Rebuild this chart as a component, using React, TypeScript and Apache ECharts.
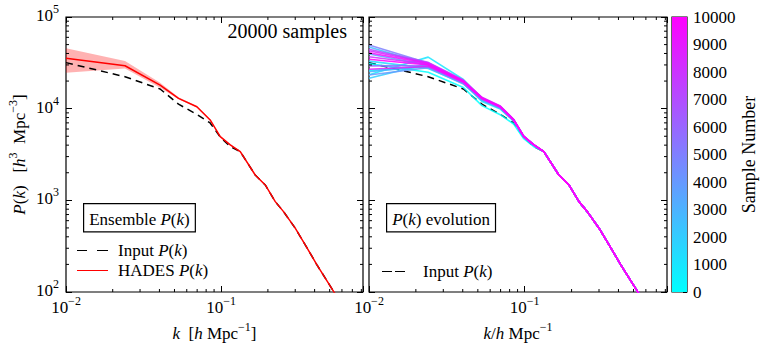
import React, { useEffect, useRef } from 'react';
import * as echarts from 'echarts';

// ---- data ----
const kNodes = [0.01, 0.024, 0.0404, 0.0531, 0.0697, 0.0849, 0.0986, 0.1144, 0.1327, 0.1657, 0.1923, 0.2231, 0.2522, 0.3, 0.348, 0.414, 0.531, 0.6];
const hadesP = [35500, 29400, 18100, 12970, 10500, 7530, 4955, 4020, 3400, 1890, 1473, 968, 753, 497, 327, 198, 101, 73];
const inputP = [31800, 22300, 16400, 11200, 8650, 6980, 4900, 3850, 3400, 1890, 1473, 968, 753, 497, 327, 198, 101, 73];
const bandUpper = [45500, 33100, 19200, 13300, 10700, 7650, 5030, 4080, 3450, 1915, 1490, 980, 762, 503, 331, 200, 102, 74];
const bandLower = [24700, 27500, 16900, 12700, 10300, 7410, 4880, 3960, 3350, 1865, 1456, 956, 744, 491, 323, 196, 100, 72];

// sample evolution: values at the first 8 k nodes, tail shared with HADES
const sampleIds = [0, 500, 1000, 1500, 2000, 2500, 3000, 3500, 4000, 5000, 6000, 7000, 8000, 8500, 9000, 9500, 10000];
const sampleHead = [
  [31000, 25000, 17000, 10800, 8600, 6800, 4700, 3850],
  [26000, 28500, 19000, 12000, 9900, 7300, 4900, 3950],
  [23500, 36500, 20800, 12900, 10100, 7450, 4950, 4000],
  [33000, 27500, 18800, 12400, 10100, 7500, 4900, 4000],
  [21500, 31000, 19500, 12300, 10200, 7450, 4950, 4020],
  [47000, 30500, 19800, 12700, 10300, 7500, 4950, 4000],
  [25300, 29000, 19000, 12600, 10200, 7500, 4950, 4020],
  [39500, 30000, 19300, 12900, 10400, 7550, 4970, 4020],
  [23300, 28000, 18600, 12400, 10100, 7450, 4930, 4000],
  [49500, 31500, 20000, 13000, 10500, 7600, 5000, 4030],
  [29300, 29500, 19200, 12800, 10300, 7500, 4960, 4020],
  [44400, 32000, 20500, 13200, 10600, 7600, 5000, 4040],
  [36900, 30500, 19600, 13000, 10500, 7550, 4980, 4020],
  [42900, 31500, 20200, 13300, 10700, 7650, 5020, 4050],
  [26900, 28800, 19400, 12900, 10400, 7500, 4960, 4020],
  [40800, 31000, 20000, 13100, 10500, 7550, 4980, 4030],
  [34600, 30000, 19800, 13000, 10500, 7530, 4960, 4020],
];

const xMin = 0.01, xMax = 0.82, yMin = 100, yMax = 100000;
const colorbarMax = 10000;
const colorbarStep = 1000;

const SERIF = 'Liberation Serif';
const FS = 17;

function coolColor(t: number) {
  return `rgb(${Math.round(255 * t)},${Math.round(255 * (1 - t))},255)`;
}

const minorMult = [2, 3, 4, 5, 6, 7, 8, 9];
const xMinor: number[] = [];
[0.01, 0.1].forEach((d) => minorMult.forEach((m) => { const v = d * m; if (v < xMax) xMinor.push(v); }));
const yMinor: number[] = [];
[100, 1000, 10000].forEach((d) => minorMult.forEach((m) => yMinor.push(d * m)));

const rich = {
  b: { fontFamily: SERIF, fontSize: FS, color: '#000', lineHeight: 21, verticalAlign: 'bottom' },
  i: { fontFamily: SERIF, fontSize: FS, fontStyle: 'italic', color: '#000', lineHeight: 21, verticalAlign: 'bottom' },
  s: { fontFamily: SERIF, fontSize: 12, color: '#000', lineHeight: 13, verticalAlign: 'top' },
};
const legendRich = {
  b: { fontFamily: SERIF, fontSize: FS, color: '#000', lineHeight: 17 },
  i: { fontFamily: SERIF, fontSize: FS, fontStyle: 'italic', color: '#000', lineHeight: 17 },
};

function powFmt(v: number) {
  const e = Math.log10(v);
  const r = Math.round(e);
  if (Math.abs(e - r) > 1e-6) return '';
  return '{b|10}{s|' + (r < 0 ? '\u2212' + -r : String(r)) + '}';
}

function xAxisCfg(gi: number, pos: 'top' | 'bottom', showLabel: boolean, name: string) {
  return {
    type: 'log', logBase: 10, gridIndex: gi, position: pos, min: xMin, max: xMax,
    axisLine: { show: false }, splitLine: { show: false },
    axisTick: { show: true, inside: true, length: 6, lineStyle: { color: '#000', width: 1 } },
    axisLabel: { show: showLabel, formatter: powFmt, margin: 3, rich },
    name, nameLocation: 'middle', nameGap: 27,
    nameTextStyle: { rich },
  };
}
function yAxisCfg(gi: number, pos: 'left' | 'right', showLabel: boolean, name: string) {
  return {
    type: 'log', logBase: 10, gridIndex: gi, position: pos, min: yMin, max: yMax,
    axisLine: { show: false }, splitLine: { show: false },
    axisTick: { show: true, inside: true, length: 6, lineStyle: { color: '#000', width: 1 } },
    axisLabel: { show: showLabel, formatter: powFmt, margin: 7, rich, padding: [0, 0, 7, 0] },
    name, nameLocation: 'middle', nameGap: 38, nameRotate: 90,
    nameTextStyle: { rich },
  };
}

function minorTickSeries(axisIdx: number) {
  const L = 3;
  const data = [
    ...xMinor.map((v) => [v, yMin, 0]),
    ...yMinor.map((v) => [xMin, v, 1]),
  ];
  return {
    type: 'custom', xAxisIndex: axisIdx, yAxisIndex: axisIdx, silent: true, z: 5,
    data,
    renderItem: (_p: any, api: any) => {
      const a = api.value(0), b = api.value(1), kind = api.value(2);
      const st = { stroke: '#000', lineWidth: 1 };
      if (kind === 0) {
        const p1 = api.coord([a, yMin]);
        const p2 = api.coord([a, yMax]);
        return { type: 'group', children: [
          { type: 'line', shape: { x1: p1[0], y1: p1[1], x2: p1[0], y2: p1[1] - L }, style: st },
          { type: 'line', shape: { x1: p2[0], y1: p2[1], x2: p2[0], y2: p2[1] + L }, style: st },
        ] };
      }
      const p1 = api.coord([xMin, b]);
      const p2 = api.coord([xMax, b]);
      return { type: 'group', children: [
        { type: 'line', shape: { x1: p1[0], y1: p1[1], x2: p1[0] + L, y2: p1[1] }, style: st },
        { type: 'line', shape: { x1: p2[0], y1: p2[1], x2: p2[0] - L, y2: p2[1] }, style: st },
      ] };
    },
  };
}

const legendText = '{b|Input }{i|P}{b|(}{i|k}{b|)}';
const legendNames: Record<string, string> = {
  'Input P(k)': legendText,
  'HADES P(k)': '{b|HADES }{i|P}{b|(}{i|k}{b|)}',
  'Input P(k) ': legendText,
};

export default function App() {
  const ref = useRef<HTMLDivElement>(null);
  useEffect(() => {
    document.body.style.margin = '0';
    const chart = echarts.init(ref.current!, null, { renderer: 'svg' });
    const pair = (ks: number[], vs: number[]) => ks.map((k, i) => [k, vs[i]]);
    const dashStyle = { color: '#000', width: 1.5, type: [7, 5] as any };

    const sampleSeries = sampleIds.map((id, si) => {
      const vals = kNodes.map((_, i) => (i < sampleHead[si].length ? sampleHead[si][i] : hadesP[i]));
      return {
        type: 'line', name: 'sample ' + id, xAxisIndex: 2, yAxisIndex: 2,
        data: pair(kNodes, vals), symbol: 'none', silent: true,
        lineStyle: { color: coolColor(id / colorbarMax), width: 1.6, opacity: 0.85 },
        z: 3,
      };
    });

    const option: any = {
      animation: false,
      grid: [
        { left: 66, top: 17, width: 297, height: 275, show: true, borderColor: '#000', borderWidth: 1.2, backgroundColor: 'transparent' },
        { left: 369, top: 17, width: 298, height: 275, show: true, borderColor: '#000', borderWidth: 1.2, backgroundColor: 'transparent' },
        { left: 672, top: 17, width: 15, height: 275, show: true, borderColor: '#000', borderWidth: 1.2, backgroundColor: 'transparent' },
      ],
      xAxis: [
        xAxisCfg(0, 'bottom', true, '{i|k}{b|  [}{i|h}{b| Mpc}{s|\u22121}{b|]}'),
        xAxisCfg(0, 'top', false, ''),
        xAxisCfg(1, 'bottom', true, '{i|k}{b|/}{i|h}{b| Mpc}{s|\u22121}'),
        xAxisCfg(1, 'top', false, ''),
        { type: 'category', gridIndex: 2, data: ['c'], show: false },
      ],
      yAxis: [
        yAxisCfg(0, 'left', true, '{i|P}{b|(}{i|k}{b|)   [}{i|h}{s|3}{b|  Mpc}{s|\u22123}{b|]}'),
        yAxisCfg(0, 'right', false, ''),
        yAxisCfg(1, 'left', false, ''),
        yAxisCfg(1, 'right', false, ''),
        {
          type: 'value', gridIndex: 2, position: 'right', min: 0, max: colorbarMax, interval: colorbarStep,
          axisLine: { show: false }, splitLine: { show: false },
          axisTick: { show: true, inside: true, length: 4, lineStyle: { color: '#000' } },
          axisLabel: { margin: 6, fontFamily: SERIF, fontSize: FS, color: '#000', formatter: (v: number) => String(v) },
          name: 'Sample Number', nameLocation: 'middle', nameRotate: 90, nameGap: 53,
          nameTextStyle: { fontFamily: SERIF, fontSize: 18, color: '#000' },
        },
      ],
      legend: [
        {
          data: [
            { name: 'Input P(k)', icon: 'path://M0,0h10v1h-10z M20,0h11v1h-11z' },
            { name: 'HADES P(k)', icon: 'path://M0,0h31v1h-31z' },
          ],
          orient: 'vertical', left: 77, top: 242, padding: 0,
          itemWidth: 31, itemHeight: 1.6, itemGap: 3, selectedMode: false,
          formatter: (n: string) => legendNames[n],
          textStyle: { rich: legendRich, padding: [0, 0, 0, 5] },
        },
        {
          data: [{ name: 'Input P(k) ', icon: 'path://M0,0h10v1h-10z M13,0h10v1h-10z' }],
          orient: 'vertical', left: 382, top: 263, padding: 0,
          itemWidth: 23, itemHeight: 1.6, selectedMode: false,
          formatter: (n: string) => legendNames[n],
          textStyle: { rich: legendRich, padding: [0, 0, 0, 13] },
        },
      ],
      graphic: [
        {
          type: 'text', left: 83, top: 203, z: 100,
          style: {
            text: '{b|Ensemble }{i|P}{b|(}{i|k}{b|)}', rich,
            borderColor: '#000', borderWidth: 1.2, backgroundColor: '#fff', padding: [3, 5, 3, 5],
          },
        },
        {
          type: 'text', left: 386, top: 203, z: 100,
          style: {
            text: '{i|P}{b|(}{i|k}{b|) evolution}', rich,
            borderColor: '#000', borderWidth: 1.2, backgroundColor: '#fff', padding: [3, 5, 3, 5],
          },
        },
        {
          type: 'text', right: 764 - 347, top: 21, z: 100,
          style: { text: '20000 samples', font: '20px "Liberation Serif"', fill: '#000' },
        },
      ],
      series: [
        {
          type: 'custom', xAxisIndex: 0, yAxisIndex: 0, silent: true, z: 1,
          data: [[kNodes[0], hadesP[0]]],
          renderItem: (_p: any, api: any) => {
            const pts: number[][] = [];
            kNodes.forEach((k, i) => pts.push(api.coord([k, bandUpper[i]])));
            for (let i = kNodes.length - 1; i >= 0; i--) pts.push(api.coord([kNodes[i], bandLower[i]]));
            return { type: 'polygon', shape: { points: pts }, style: { fill: 'rgba(255,0,0,0.3)' } };
          },
          clip: true,
        },
        {
          type: 'line', name: 'Input P(k)', xAxisIndex: 0, yAxisIndex: 0, data: pair(kNodes, inputP),
          symbol: 'none', lineStyle: dashStyle, itemStyle: { color: '#000' }, z: 2,
        },
        {
          type: 'line', name: 'HADES P(k)', xAxisIndex: 0, yAxisIndex: 0, data: pair(kNodes, hadesP),
          symbol: 'none', lineStyle: { color: '#ff0000', width: 1.5 }, itemStyle: { color: '#ff0000' }, z: 3,
        },
        {
          type: 'line', name: 'Input P(k) ', xAxisIndex: 2, yAxisIndex: 2, data: pair(kNodes, inputP),
          symbol: 'none', lineStyle: dashStyle, itemStyle: { color: '#000' }, z: 2,
        },
        ...sampleSeries,
        minorTickSeries(0),
        minorTickSeries(2),
        {
          type: 'bar', xAxisIndex: 4, yAxisIndex: 4, data: [colorbarMax], barWidth: '100%', silent: true,
          itemStyle: {
            color: new echarts.graphic.LinearGradient(0, 1, 0, 0, [
              { offset: 0, color: coolColor(0) },
              { offset: 1, color: coolColor(1) },
            ]),
          },
        },
      ],
    };
    chart.setOption(option);
    return () => chart.dispose();
  }, []);
  return <div ref={ref} style={{ width: 764, height: 347 }} />;
}
